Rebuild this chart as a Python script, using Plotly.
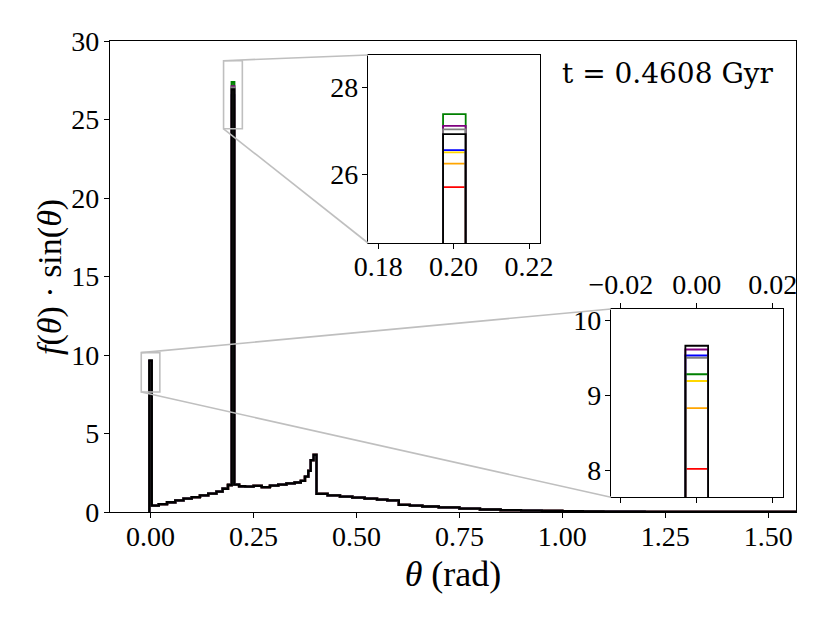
import plotly.graph_objects as go

# step histogram of f(theta)*sin(theta), edges in rad
theta_edges = [-0.003, 0.003, 0.02, 0.04, 0.06, 0.08, 0.10, 0.12, 0.14, 0.16, 0.175, 0.188,
               0.1972, 0.2032, 0.215, 0.23, 0.25, 0.27, 0.29, 0.31, 0.33, 0.35, 0.365, 0.375,
               0.383, 0.389, 0.396, 0.403, 0.43, 0.46, 0.49, 0.52, 0.55, 0.575, 0.603, 0.63,
               0.66, 0.70, 0.75, 0.80, 0.85, 0.90, 0.95, 1.00, 1.05, 1.10, 1.20, 1.30, 1.40, 1.5708]
# continuum heights (all runs sit on top of each other here); None = spike bin
base_height = [None, 0.40, 0.50, 0.62, 0.74, 0.85, 0.95, 1.06, 1.17, 1.30, 1.48, 1.72,
               None, 1.74, 1.64, 1.62, 1.66, 1.58, 1.68, 1.74, 1.82, 1.88, 1.98,
               2.25, 2.62, 3.30, 3.64, 1.16, 1.06, 0.98, 0.92, 0.85, 0.79, 0.74, 0.46,
               0.41, 0.35, 0.29, 0.22, 0.16, 0.12, 0.09, 0.07, 0.05, 0.035, 0.02, 0.012,
               0.006, 0.003]

run_colors = ["red", "orange", "gold", "blue", "green", "purple", "gray", "black"]
spike_at_0 = [8.02, 8.83, 9.19, 9.53, 9.28, 9.61, 9.50, 9.66]
spike_at_02 = [25.70, 26.24, 26.50, 26.55, 27.38, 27.11, 27.03, 26.92]

main_xticks = [0.0, 0.25, 0.5, 0.75, 1.0, 1.25, 1.5]
main_yticks = [0, 5, 10, 15, 20, 25, 30]
inset1_xticks = [0.18, 0.20, 0.22]
inset1_yticks = [26, 28]
inset2_xticks = [-0.02, 0.0, 0.02]
inset2_xlabels = ["\u22120.02", "0.00", "0.02"]
inset2_yticks = [8, 9, 10]

# axis windows
main_xrange = [-0.0985, 1.5675]
main_yrange = [0, 30]
inset1_xrange = [0.1773, 0.2229]
inset1_yrange = [24.41, 28.745]
inset2_xrange = [-0.0226, 0.0226]
inset2_yrange = [7.64, 10.15]

W, H = 830, 623
main_xdom = [110 / W, 796 / W]
main_ydom = [1 - 512 / H, 1 - 41 / H]
inset1_xdom = [368 / W, 540 / W]
inset1_ydom = [1 - 243 / H, 1 - 55 / H]
inset2_xdom = [611 / W, 782.5 / W]
inset2_ydom = [1 - 497.3 / H, 1 - 309 / H]

tick_font = dict(family="Liberation Serif", size=28, color="black")
title_font = dict(family="Liberation Serif", size=36, color="black")

fig = go.Figure()

for color, s0, s02 in zip(run_colors, spike_at_0, spike_at_02):
    heights = list(base_height)
    heights[0] = s0
    heights[12] = s02
    xs = [theta_edges[0]] + theta_edges
    ys = [0] + heights + [0]
    for xa, ya, lw in [("x", "y", 2.3), ("x2", "y2", 1.8), ("x3", "y3", 1.8)]:
        fig.add_trace(go.Scatter(
            x=xs, y=ys, mode="lines", line_shape="hv",
            line=dict(color=color, width=lw),
            xaxis=xa, yaxis=ya, showlegend=False, hoverinfo="skip"
        ))

axis_common = dict(showgrid=False, zeroline=False, showline=True, linecolor="black",
                   linewidth=1.2, ticks="outside", ticklen=5, tickwidth=1.1,
                   tickcolor="black", tickfont=tick_font, mirror=True, automargin=False)

fig.update_layout(
    width=W, height=H,
    margin=dict(l=0, r=0, t=0, b=0),
    paper_bgcolor="white", plot_bgcolor="white",
    xaxis=dict(domain=main_xdom, range=main_xrange, tickvals=main_xticks,
               tickformat=".2f", anchor="y", ticklabelstandoff=-6,
               title=dict(text="<i>θ</i> (rad)", font=title_font, standoff=10),
               **axis_common),
    yaxis=dict(domain=main_ydom, range=main_yrange, tickvals=main_yticks, anchor="x",
               ticklabelstandoff=-1, **axis_common),
    xaxis2=dict(domain=inset1_xdom, range=inset1_xrange, tickvals=inset1_xticks,
                tickformat=".2f", anchor="y2", ticklabelstandoff=-7, **axis_common),
    yaxis2=dict(domain=inset1_ydom, range=inset1_yrange, tickvals=inset1_yticks,
                anchor="x2", ticklabelstandoff=-2, **axis_common),
    xaxis3=dict(domain=inset2_xdom, range=inset2_xrange, tickvals=inset2_xticks,
                ticktext=inset2_xlabels, anchor="y3", side="top", ticklabelstandoff=-2,
                **{**axis_common, "mirror": "ticks"}),
    yaxis3=dict(domain=inset2_ydom, range=inset2_yrange, tickvals=inset2_yticks,
                anchor="x3", ticklabelstandoff=-2, **axis_common),
)

# y label placed by hand, a little nearer the ticks than plotly's title would go
fig.add_annotation(text="<i>f</i>(<i>θ</i>) · sin(<i>θ</i>)", xref="paper", yref="paper",
                   x=50 / W, y=1 - 277 / H, textangle=-90, showarrow=False,
                   xanchor="center", yanchor="middle",
                   font=dict(family="Liberation Serif", size=34, color="black"))


def to_paper(x, y):
    px = main_xdom[0] + (x - main_xrange[0]) / (main_xrange[1] - main_xrange[0]) * (main_xdom[1] - main_xdom[0])
    py = main_ydom[0] + (y - main_yrange[0]) / (main_yrange[1] - main_yrange[0]) * (main_ydom[1] - main_ydom[0])
    return px, py


zoom_gray = "#bfbfbf"
for xr, yr, xd, yd in [(inset1_xrange, inset1_yrange, inset1_xdom, inset1_ydom),
                       (inset2_xrange, inset2_yrange, inset2_xdom, inset2_ydom)]:
    # box marking the zoomed region
    fig.add_shape(type="rect", xref="x", yref="y", x0=xr[0], x1=xr[1], y0=yr[0], y1=yr[1],
                  line=dict(color=zoom_gray, width=1.6))
    # connectors: upper-left to upper-left, lower-left to lower-left
    for yv, yp in [(yr[1], yd[1]), (yr[0], yd[0])]:
        px, py = to_paper(xr[0], yv)
        fig.add_shape(type="line", xref="paper", yref="paper", x0=px, y0=py, x1=xd[0], y1=yp,
                      line=dict(color=zoom_gray, width=1.6))

fig.add_annotation(text="t = 0.4608 Gyr", xref="paper", yref="paper",
                   x=668 / W, y=1 - 73 / H, xanchor="center", yanchor="middle",
                   showarrow=False, font=dict(family="DejaVu Serif", size=28, color="black"))

# drop the default 8px page margin so the figure sits at the window corner
fig.write_html("out.html", config={"displayModeBar": False},
               post_script="document.body.style.margin='0px';")
